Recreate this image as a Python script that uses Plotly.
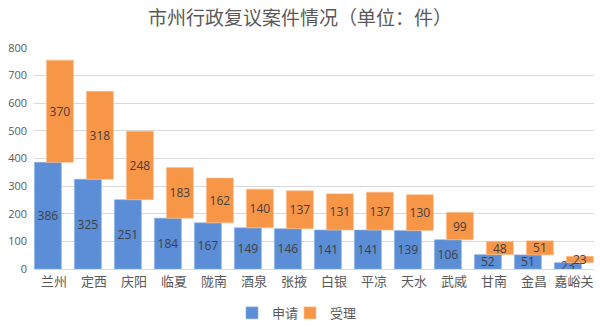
import plotly.graph_objects as go

cities = ["兰州", "定西", "庆阳", "临夏", "陇南", "酒泉", "张掖", "白银", "平凉", "天水", "武威", "甘南", "金昌", "嘉峪关"]
apply_vals = [386, 325, 251, 184, 167, 149, 146, 141, 141, 139, 106, 52, 51, 23]
accept_vals = [370, 318, 248, 183, 162, 140, 137, 131, 137, 130, 99, 48, 51, 23]

blue = "#5B8ED6"
orange = "#F79646"
font_cjk = "Noto Sans CJK SC"

fig = go.Figure()
fig.add_trace(go.Bar(
    x=cities, y=apply_vals, name="申请", legend="legend",
    marker=dict(color=blue, line=dict(color="#8FB4E3", width=0.6)),
    width=0.675, offset=-0.49,
    text=apply_vals, textposition="inside", insidetextanchor="middle", textangle=0,
    textfont=dict(color="#404040", size=12, family="Open Sans"),
    constraintext="none", cliponaxis=False,
))
fig.add_trace(go.Bar(
    x=cities, y=accept_vals, base=apply_vals, name="受理", legend="legend2",
    marker=dict(color=orange, line=dict(color="#FAC090", width=0.6)),
    width=0.675, offset=-0.19,
    text=accept_vals, textposition="inside", insidetextanchor="middle", textangle=0,
    textfont=dict(color="#404040", size=12, family="Open Sans"),
    constraintext="none", cliponaxis=False,
))

leg_common = dict(orientation="h", yref="container", y=0.043, yanchor="middle",
                  xref="container", xanchor="left",
                  font=dict(family=font_cjk, size=13, color="#595959"),
                  itemwidth=30, bgcolor="rgba(0,0,0,0)")

fig.update_layout(
    width=600, height=327,
    margin=dict(l=34, r=6, t=48, b=58),
    paper_bgcolor="white", plot_bgcolor="white",
    barmode="overlay",
    uniformtext=dict(minsize=12, mode="show"),
    title=dict(text="市州行政复议案件情况（单位：件）", x=0.5, xanchor="center",
               y=0.945, yanchor="middle",
               font=dict(family=font_cjk, size=19, color="#595959")),
    legend=dict(x=232 / 600, **leg_common),
    legend2=dict(x=290 / 600, **leg_common),
    showlegend=True,
)
fig.update_xaxes(
    type="category", range=[-0.5, 13.5],
    tickfont=dict(family=font_cjk, size=13, color="#595959"),
    showline=True, linecolor="#D9D9D9", linewidth=1, ticks="",
)
fig.update_yaxes(
    range=[0, 800], dtick=100,
    gridcolor="#D9D9D9", gridwidth=1,
    tickfont=dict(family="Open Sans", size=11, color="#595959"),
    zeroline=False, ticks="", ticklabelstandoff=6,
)

fig.write_html("out.html")
